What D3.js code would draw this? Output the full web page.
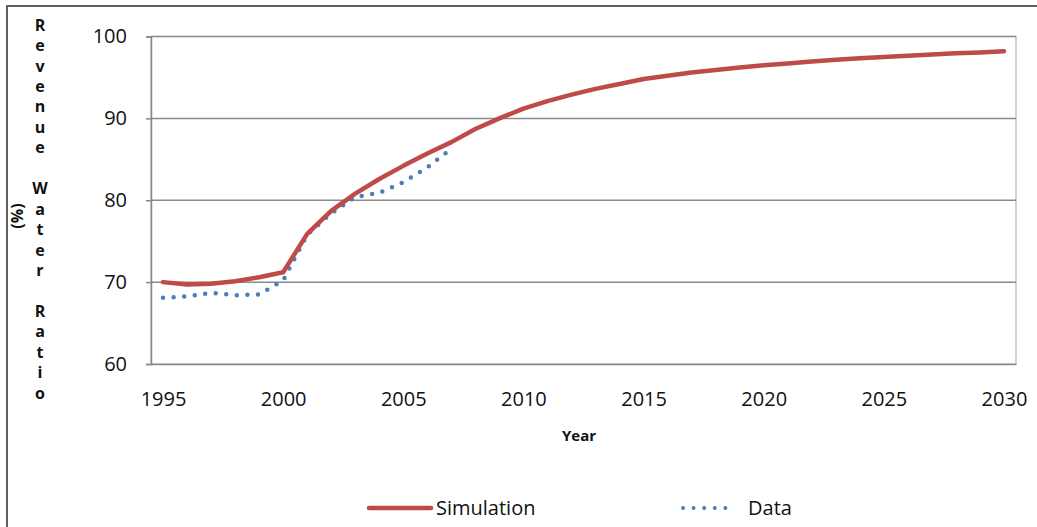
<!DOCTYPE html>
<html>
<head>
<meta charset="utf-8">
<script src="https://cdn.jsdelivr.net/npm/d3@7"></script>
<style>
  html, body { margin: 0; padding: 0; background: #fff; }
  svg { display: block; }
  text { font-family: "Open Sans", "Noto Sans", sans-serif; fill: #111; }
</style>
</head>
<body>
<svg id="chart" width="1037" height="527"></svg>
<script>
// Revenue water ratio: simulated trajectory vs. observed data
const years = [1995, 1996, 1997, 1998, 1999, 2000, 2001, 2002, 2003, 2004, 2005, 2006,
  2007, 2008, 2009, 2010, 2011, 2012, 2013, 2014, 2015, 2016, 2017, 2018,
  2019, 2020, 2021, 2022, 2023, 2024, 2025, 2026, 2027, 2028, 2029, 2030];
const simulation = [70.0, 69.7, 69.8, 70.1, 70.6, 71.2, 75.9, 78.7, 80.8, 82.6, 84.2, 85.7,
  87.1, 88.7, 90.0, 91.2, 92.1, 92.9, 93.6, 94.2, 94.8, 95.2, 95.6, 95.9,
  96.2, 96.5, 96.7, 96.95, 97.15, 97.35, 97.5, 97.65, 97.8, 97.95, 98.05, 98.2];
const dataYears = [1995, 1996, 1997, 1998, 1999, 2000, 2001, 2002, 2003, 2004, 2005, 2006, 2007];
const observed = [68.1, 68.25, 68.7, 68.4, 68.5, 70.2, 75.8, 78.4, 80.4, 80.9, 82.2, 84.0, 86.3];
const yTicks = [60, 70, 80, 90, 100];
const xTickLabels = [1995, 2000, 2005, 2010, 2015, 2020, 2025, 2030];
const yTitleWords = ["Revenue", "Water", "Ratio"];

const svg = d3.select("#chart");
const plot = { left: 151, right: 1016, top: 36.5, bottom: 364 };

const x = d3.scalePoint().domain(years).range([plot.left, plot.right]).padding(0.5);
const y = d3.scaleLinear().domain([60, 100]).range([plot.bottom, plot.top]);

// outer chart frame
svg.append("rect")
  .attr("x", 7).attr("y", 6).attr("width", 1060).attr("height", 540)
  .attr("fill", "none").attr("stroke", "#3a3a3a").attr("stroke-width", 1.6);

// plot area frame
svg.append("rect")
  .attr("x", plot.left).attr("y", plot.top)
  .attr("width", plot.right - plot.left).attr("height", plot.bottom - plot.top)
  .attr("fill", "none").attr("stroke", "#b4b4b4").attr("stroke-width", 1.2);

// horizontal gridlines
svg.append("g").selectAll("line").data(yTicks.filter(d => d > 60)).join("line")
  .attr("x1", plot.left).attr("x2", plot.right)
  .attr("y1", d => y(d)).attr("y2", d => y(d))
  .attr("stroke", "#8a8a8a").attr("stroke-width", 1.5);

// y axis
const yAxis = d3.axisLeft(y).tickValues(yTicks).tickSize(5).tickPadding(19).tickFormat(d3.format("d"));
const gy = svg.append("g").attr("transform", `translate(${plot.left},0)`).call(yAxis);
gy.select(".domain").attr("stroke", "#8a8a8a").attr("stroke-width", 1.5);
gy.selectAll(".tick line").attr("stroke", "#8a8a8a").attr("stroke-width", 1.5);
gy.selectAll(".tick text").attr("font-size", 20).attr("fill", "#111")
  .attr("font-family", '"Open Sans", sans-serif');

// x axis
const xAxis = d3.axisBottom(x).tickValues(xTickLabels).tickSize(0).tickPadding(28).tickFormat(d3.format("d"));
const gx = svg.append("g").attr("transform", `translate(0,${plot.bottom})`).call(xAxis);
gx.select(".domain").attr("stroke", "#8a8a8a").attr("stroke-width", 1.5);
gx.selectAll(".tick text").attr("font-size", 20).attr("fill", "#111")
  .attr("font-family", '"Open Sans", sans-serif');

// x axis title
svg.append("text").attr("x", 579).attr("y", 441)
  .attr("text-anchor", "middle").attr("font-size", 15).attr("font-weight", "bold")
  .text("Year");

// y axis title: stacked letters
const letters = [];
yTitleWords.forEach((w, i) => {
  if (i > 0) letters.push(" ");
  for (const c of w) letters.push(c);
});
const titleTop = 25, lineStep = 20.45;
svg.append("g").selectAll("text").data(letters).join("text")
  .attr("x", 40).attr("y", (d, i) => titleTop + i * lineStep)
  .attr("dy", "0.35em")
  .attr("text-anchor", "middle").attr("font-size", 16).attr("font-weight", "bold")
  .text(d => d);
svg.append("text")
  .attr("transform", "translate(17,216) rotate(-90)")
  .attr("dy", "0.35em")
  .attr("text-anchor", "middle").attr("font-size", 16).attr("font-weight", "bold")
  .text("(%)");

// series
const simLine = d3.line().x((d, i) => x(years[i])).y(d => y(d));
const obsLine = d3.line().x((d, i) => x(dataYears[i])).y(d => y(d));

svg.append("path").datum(observed)
  .attr("d", obsLine)
  .attr("fill", "none").attr("stroke", "#4a7ebb").attr("stroke-width", 4.5)
  .attr("stroke-linecap", "round").attr("stroke-dasharray", "0 10.6");

svg.append("path").datum(simulation)
  .attr("d", simLine)
  .attr("fill", "none").attr("stroke", "#be4b48").attr("stroke-width", 4.5)
  .attr("stroke-linecap", "round").attr("stroke-linejoin", "round");

// legend
const legend = svg.append("g");
legend.append("line").attr("x1", 369).attr("x2", 431).attr("y1", 508).attr("y2", 508)
  .attr("stroke", "#be4b48").attr("stroke-width", 4.5).attr("stroke-linecap", "round");
legend.append("text").attr("x", 436).attr("y", 508).attr("dy", "0.35em")
  .attr("font-size", 20).text("Simulation");
legend.append("line").attr("x1", 683).attr("x2", 736).attr("y1", 508).attr("y2", 508)
  .attr("stroke", "#4a7ebb").attr("stroke-width", 4)
  .attr("stroke-linecap", "round").attr("stroke-dasharray", "0 10.6");
legend.append("text").attr("x", 748).attr("y", 508).attr("dy", "0.35em")
  .attr("font-size", 20).text("Data");
</script>
</body>
</html>
